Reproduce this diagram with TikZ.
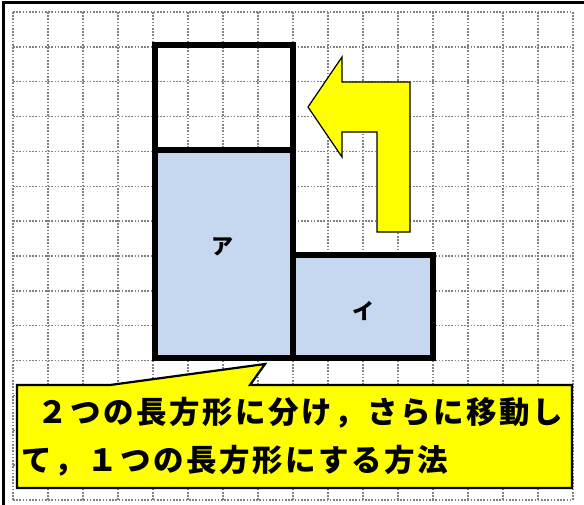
\documentclass[tikz,border=0pt]{standalone}
\usepackage{fontspec}
\newfontfamily\cjk{Noto Sans CJK JP}
\def\jsp#1{\ifx#1\relax\else\makebox[33pt]{#1}\expandafter\jsp\fi}
\definecolor{boxblue}{RGB}{198,216,240}
\definecolor{callyellow}{RGB}{255,255,0}
\tikzset{
  gridline/.style={black!50, line width=1.5pt, dash pattern=on 1.6pt off 1.6pt},
  shapebox/.style={draw=black, line width=5.5pt},
  bluebox/.style={shapebox, fill=boxblue},
  arrowshape/.style={fill=callyellow, draw=black, line width=1.2pt, line join=miter},
  callout/.style={fill=callyellow, draw=black, line width=2.2pt, line join=miter},
  kana/.style={font=\cjk\bfseries\fontsize{22}{22}\selectfont, inner sep=0pt},
  calltext/.style={font=\cjk\bfseries\fontsize{30.5}{30.5}\selectfont, inner sep=0pt, anchor=west},
}
\begin{document}
\begin{tikzpicture}[x=1pt,y=-1pt]
\useasboundingbox (0,0) rectangle (584,504);
\fill[white] (0,0) rectangle (584,504);
% grid
\foreach \k in {0,...,14}{
  \draw[gridline] (13,{12+34.86*\k}) -- (573,{12+34.86*\k});
}
\foreach \k in {0,...,16}{
  \draw[gridline] ({13+35*\k},12) -- ({13+35*\k},500);
}
% frame
\draw[line width=2.2pt] (3.5,510) -- (3.5,2.5) -- (590,2.5);
% shapes
\draw[bluebox] (155,150) rectangle (293,358);
\draw[bluebox] (293,255) rectangle (433,358);
\draw[shapebox] (155,45) rectangle (293,150);
\node[kana] (a) at (222,247) {ア};
\node[kana] (i) at (363,311) {イ};
% arrow
\draw[arrowshape] (308,107) -- (342,57) -- (342,82) -- (410,82) -- (410,232)
  -- (377,232) -- (377,132) -- (342,132) -- (342,157) -- cycle;
% callout
\draw[callout] (17,385) -- (110,385) -- (265,364) -- (250,385) -- (572,385)
  -- (572,488) -- (17,488) -- cycle;
\node[calltext] (t1) at (36,413) {\jsp ２つの長方形に分け，さらに移動し\relax};
\node[calltext] (t2) at (20,461) {\jsp て，１つの長方形にする方法\relax};
\end{tikzpicture}
\end{document}
